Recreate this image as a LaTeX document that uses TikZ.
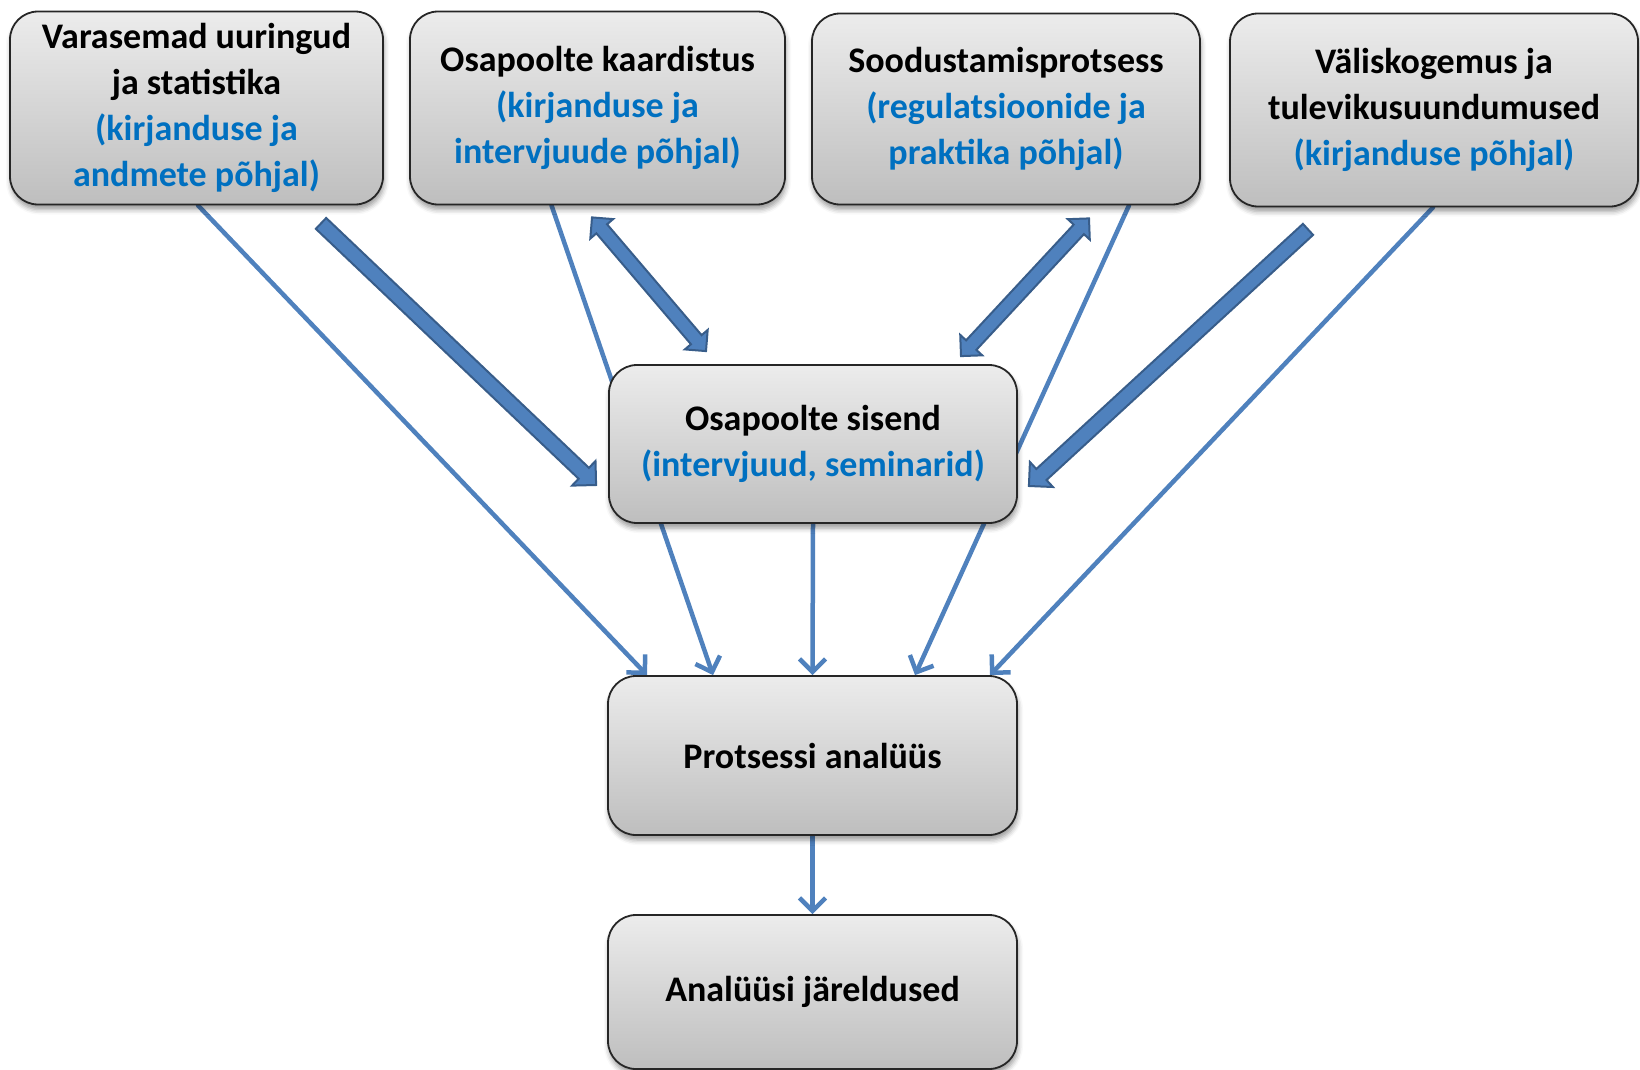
\documentclass[tikz,border=0pt]{standalone}
\usepackage{fontspec}
\setmainfont{Carlito}
\usetikzlibrary{calc,arrows.meta,shadows.blur}

\pgfdeclarelayer{back}
\pgfsetlayers{back,main}

\definecolor{linkblue}{RGB}{79,129,189}
\definecolor{linkedge}{RGB}{56,93,138}
\definecolor{notetext}{RGB}{0,112,192}
\definecolor{boxtop}{RGB}{236,236,236}
\definecolor{boxbottom}{RGB}{190,190,190}

\newcommand\srcnote[1]{\textcolor{notetext}{#1}}

\tikzset{
  stagebox/.style={draw=black!85, line width=1.8pt, rounded corners=28pt,
    top color=boxtop, bottom color=boxbottom, align=center, inner sep=0pt,
    font=\fontsize{36}{46}\selectfont\bfseries,
    blur shadow={shadow xshift=1pt, shadow yshift=-5pt, shadow blur radius=5pt}},
  flow/.style={draw=linkblue, line width=4.5pt, line cap=round,
    -{Straight Barb[length=13pt,width=26pt]}},
  blockarrow/.style={fill=linkblue, draw=linkedge, line width=2pt, line join=miter},
}

% block arrow with one head, from #1 to #2
\newcommand\onewayarrow[2]{%
  \coordinate (ta) at #1; \coordinate (tb) at #2;
  \coordinate (hb) at ($(tb)!17pt!(ta)$);
  \path[blockarrow] ($(ta)!7.5pt!90:(tb)$) -- ($(hb)!7.5pt!90:(tb)$)
    -- ($(hb)!17pt!90:(tb)$) -- (tb) -- ($(hb)!17pt!-90:(tb)$)
    -- ($(hb)!7.5pt!-90:(tb)$) -- ($(ta)!7.5pt!-90:(tb)$) -- cycle;}

% block arrow with heads at both ends
\newcommand\twowayarrow[2]{%
  \coordinate (ta) at #1; \coordinate (tb) at #2;
  \coordinate (ha) at ($(ta)!15pt!(tb)$);
  \coordinate (hb) at ($(tb)!15pt!(ta)$);
  \path[blockarrow] (ta) -- ($(ha)!15pt!90:(tb)$) -- ($(ha)!7pt!90:(tb)$)
    -- ($(hb)!7pt!90:(tb)$) -- ($(hb)!15pt!90:(tb)$) -- (tb)
    -- ($(hb)!15pt!-90:(tb)$) -- ($(hb)!7pt!-90:(tb)$)
    -- ($(ha)!7pt!-90:(tb)$) -- ($(ha)!15pt!-90:(tb)$) -- cycle;}

\begin{document}
\begin{tikzpicture}[x=1pt,y=-1pt]
\useasboundingbox (0,0) rectangle (1640,1070);

% sources
\node[stagebox, minimum width=373pt, minimum height=193pt] (b1) at (196.5,108)
  {Varasemad uuringud\\ja statistika\\\srcnote{(kirjanduse ja}\\\srcnote{andmete põhjal)}};
\node[stagebox, minimum width=375pt, minimum height=193pt] (b2) at (597.5,108)
  {Osapoolte kaardistus\\\srcnote{(kirjanduse ja}\\\srcnote{intervjuude põhjal)}};
\node[stagebox, minimum width=388pt, minimum height=191pt] (b3) at (1006,109)
  {Soodustamisprotsess\\\srcnote{(regulatsioonide ja}\\\srcnote{praktika põhjal)}};
\node[stagebox, minimum width=408pt, minimum height=193pt] (b4) at (1434,110)
  {Väliskogemus ja\\tulevikusuundumused\\\srcnote{(kirjanduse põhjal)}};

% central stages
\node[stagebox, minimum width=408pt, minimum height=158pt] (mid) at (813,444)
  {Osapoolte sisend\\\srcnote{(intervjuud, seminarid)}};
\node[stagebox, minimum width=409pt, minimum height=159pt] (pa) at (812.5,755.5)
  {Protsessi analüüs};
\node[stagebox, minimum width=409pt, minimum height=154pt] (aj) at (812.5,992)
  {Analüüsi järeldused};

\begin{pgfonlayer}{back}
  % thin flows into the analysis
  \draw[flow] ([xshift=1.5pt]b1.south) -- ([xshift=-165.5pt]pa.north);
  \draw[flow] ([xshift=-46pt]b2.south) -- ([xshift=-99.5pt]pa.north);
  \draw[flow] (mid.south) -- (pa.north);
  \draw[flow] ([xshift=123pt]b3.south) -- ([xshift=102.5pt]pa.north);
  \draw[flow] ([xshift=-1pt]b4.south) -- ([xshift=177.5pt]pa.north);
  \draw[flow] (pa.south) -- (aj.north);

  % block arrows to and from the stakeholder input
  \onewayarrow{([xshift=124.5pt,yshift=-18pt]b1.south)}{([xshift=-12pt,yshift=-41pt]mid.west)}
  \twowayarrow{([xshift=-5.5pt,yshift=-12pt]b2.south)}{([xshift=-107pt,yshift=13pt]mid.north)}
  \twowayarrow{([xshift=83pt,yshift=-13pt]b3.south)}{([xshift=148pt,yshift=8pt]mid.north)}
  \onewayarrow{([xshift=-126pt,yshift=-22pt]b4.south)}{([xshift=11pt,yshift=-42pt]mid.east)}
\end{pgfonlayer}
\end{tikzpicture}
\end{document}
